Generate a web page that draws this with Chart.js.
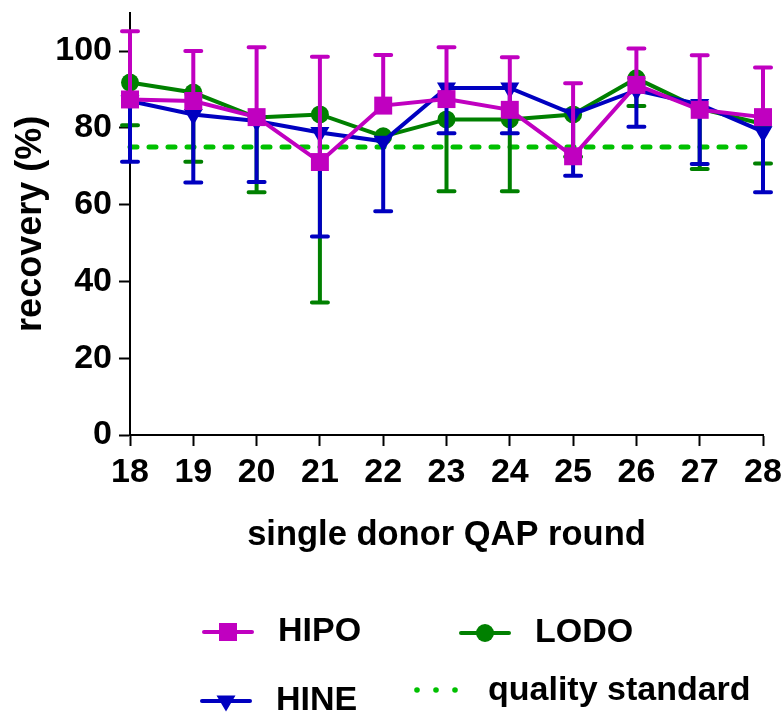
<!DOCTYPE html>
<html>
<head>
<meta charset="utf-8">
<script src="https://cdn.jsdelivr.net/npm/chart.js@4.4.1/dist/chart.umd.min.js"></script>
<style>
  html, body { margin: 0; padding: 0; background: #fff; }
</style>
</head>
<body>
<canvas id="grafico" width="782" height="715"></canvas>
<script>
// valores (recovery %, por rodada)
const rounds = [18, 19, 20, 21, 22, 23, 24, 25, 26, 27, 28];
const hipo = [87.4, 87.0, 82.8, 71.1, 85.8, 87.5, 84.7, 72.6, 91.2, 84.7, 82.8];
const hipoUpper = [105.2, 100.0, 101.0, 98.5, 99.0, 101.0, 98.4, 91.6, 100.7, 98.9, 95.7];
const lodo = [91.8, 89.2, 82.7, 83.5, 77.8, 82.2, 82.2, 83.5, 92.9, 85.0, 81.0];
const lodoLower = [80.7, 71.2, 63.2, 34.5, null, 63.5, 63.5, 72.5, 85.7, 69.3, 70.7];
const hine = [87.0, 83.5, 81.8, 78.8, 76.5, 90.4, 90.4, 83.6, 89.8, 86.1, 79.0];
const hineLower = [71.2, 65.8, 65.9, 51.7, 58.3, 78.6, 78.6, 67.5, 80.3, 70.6, 63.2];
const qualityX = [18, 27.8];
const qualityStandard = 75;
const yTicks = [0, 20, 40, 60, 80, 100];

const MAGENTA = '#c000c0';
const GREEN = '#008000';
const BLUE = '#0000c0';
const LIME = '#00c000';

const FONT = '"Liberation Sans", Arial, Helvetica, sans-serif';

function pts(vals) {
  return rounds.map((r, i) => ({ x: r, y: vals[i] }));
}

// barras de erro (so um lado, como no original)
const errorBars = {
  id: 'errorBars',
  beforeDatasetDraw(chart, args) {
    const ds = chart.data.datasets[args.index];
    if (!ds.errLow && !ds.errHigh) return;
    const ctx = chart.ctx;
    const y = chart.scales.y;
    ctx.save();
    ctx.strokeStyle = ds.borderColor;
    ctx.lineWidth = 4;
    ctx.lineCap = 'round';
    args.meta.data.forEach((pt, i) => {
      [ds.errLow, ds.errHigh].forEach(arr => {
        if (!arr || arr[i] == null) return;
        const yy = y.getPixelForValue(arr[i]);
        ctx.beginPath();
        ctx.moveTo(pt.x, pt.y);
        ctx.lineTo(pt.x, yy);
        ctx.moveTo(pt.x - 8, yy);
        ctx.lineTo(pt.x + 8, yy);
        ctx.stroke();
      });
    });
    ctx.restore();
  }
};

function marker(ctx, style, x, y, color) {
  ctx.fillStyle = color;
  ctx.beginPath();
  if (style === 'rect') {
    ctx.rect(x - 9, y - 9, 18, 18);
  } else if (style === 'circle') {
    ctx.arc(x, y, 9, 0, Math.PI * 2);
  } else if (style === 'triangle') {
    ctx.moveTo(x - 9.5, y - 5.5);
    ctx.lineTo(x + 9.5, y - 5.5);
    ctx.lineTo(x, y + 10.5);
    ctx.closePath();
  }
  ctx.fill();
}

// legenda em duas colunas, desenhada na parte de baixo
const bottomLegend = {
  id: 'bottomLegend',
  afterDraw(chart) {
    const ctx = chart.ctx;
    const items = [
      { ds: 0, x: 204, y: 632 },
      { ds: 2, x: 461, y: 633 },
      { ds: 1, x: 202, y: 701 },
      { ds: 3, x: 414, y: 691 }
    ];
    ctx.save();
    ctx.font = 'bold 34px ' + FONT;
    ctx.textBaseline = 'middle';
    ctx.textAlign = 'left';
    items.forEach(it => {
      const ds = chart.data.datasets[it.ds];
      if (ds.pointRadius === 0) {
        ctx.fillStyle = ds.borderColor;
        for (let k = 0; k < 3; k++) {
          ctx.beginPath();
          ctx.arc(it.x + 3 + k * 19, it.y - 1, 2.8, 0, Math.PI * 2);
          ctx.fill();
        }
      } else {
        ctx.strokeStyle = ds.borderColor;
        ctx.lineWidth = 4;
        ctx.lineCap = 'round';
        ctx.beginPath();
        ctx.moveTo(it.x, it.y);
        ctx.lineTo(it.x + 48, it.y);
        ctx.stroke();
        marker(ctx, ds.pointStyle, it.x + 24, it.y, ds.borderColor);
      }
      ctx.fillStyle = '#000';
      ctx.fillText(ds.label, it.x + 74, it.y);
    });
    ctx.restore();
  }
};

const ctx = document.getElementById('grafico').getContext('2d');
const grafico = new Chart(ctx, {
  type: 'line',
  data: {
    datasets: [
      {
        label: 'HIPO', data: pts(hipo), errHigh: hipoUpper,
        borderColor: MAGENTA, backgroundColor: MAGENTA, borderWidth: 4,
        pointStyle: 'rect', pointRadius: 12.7, pointBorderWidth: 0,
        order: 1, clip: false
      },
      {
        label: 'HINE', data: pts(hine), errLow: hineLower,
        borderColor: BLUE, backgroundColor: BLUE, borderWidth: 4,
        pointStyle: 'triangle', pointRotation: 180, pointRadius: 11, pointBorderWidth: 0,
        order: 2, clip: false
      },
      {
        label: 'LODO', data: pts(lodo), errLow: lodoLower,
        borderColor: GREEN, backgroundColor: GREEN, borderWidth: 4,
        pointStyle: 'circle', pointRadius: 9, pointBorderWidth: 0,
        order: 3, clip: false
      },
      {
        label: 'quality standard',
        data: qualityX.map(x => ({ x: x, y: qualityStandard })),
        borderColor: LIME, borderWidth: 5, borderDash: [7, 12], borderCapStyle: 'round',
        pointRadius: 0, order: 4, clip: false
      }
    ]
  },
  options: {
    responsive: false,
    animation: false,
    events: [],
    layout: { padding: { top: 11.5, right: 19, bottom: 159, left: 0 } },
    plugins: { legend: { display: false }, tooltip: { enabled: false } },
    elements: { line: { tension: 0 } },
    scales: {
      x: {
        type: 'linear', min: 18, max: 28,
        afterBuildTicks: s => { s.ticks = rounds.map(v => ({ value: v })); },
        afterFit: s => { s.height = 121; s.paddingLeft = 0; s.paddingRight = 0; },
        grid: { drawOnChartArea: false, drawTicks: true, tickLength: 11, tickWidth: 2, tickColor: '#000' },
        border: { display: true, color: '#000', width: 2 },
        ticks: { color: '#000', padding: 6, maxRotation: 0, font: { family: FONT, size: 34, weight: 'bold' } },
        title: {
          display: true, text: 'single donor QAP round', color: '#000',
          padding: { top: 0, bottom: 0 },
          font: { family: FONT, size: 34.5, weight: 'bold' }
        }
      },
      y: {
        min: 0, max: 110,
        afterBuildTicks: s => { s.ticks = yTicks.map(v => ({ value: v })); },
        afterFit: s => { s.width = 130; s.paddingTop = 0; s.paddingBottom = 0; },
        grid: { drawOnChartArea: false, drawTicks: true, tickLength: 11, tickWidth: 2, tickColor: '#000' },
        border: { display: true, color: '#000', width: 2 },
        ticks: { color: '#000', padding: 7, font: { family: FONT, size: 34, weight: 'bold', lineHeight: 0.5 } },
        title: {
          display: true, text: 'recovery (%)', color: '#000',
          padding: { top: 9, bottom: 0 },
          font: { family: FONT, size: 36, weight: 'bold' }
        }
      }
    }
  },
  plugins: [errorBars, bottomLegend]
});
</script>
</body>
</html>
